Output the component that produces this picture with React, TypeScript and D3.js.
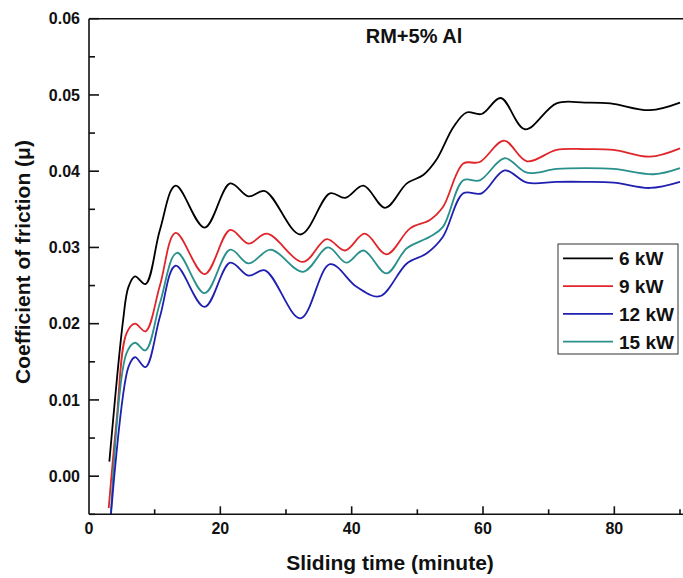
import React, { useEffect, useRef } from 'react';
import * as d3 from 'd3';

const t6 = [3.1, 5.2, 6.0, 7.0, 8.6, 10.8, 13.2, 17.6, 21.5, 24.3, 26.8, 32.2, 36.7, 39.0, 41.8, 45.1, 48.4, 50.9, 52.9, 55.5, 57.5, 59.8, 62.7, 66.4, 71.2, 75.5, 79.4, 85.4, 90];
const v6 = [0.0019, 0.0205, 0.0248, 0.0262, 0.0252, 0.0323, 0.0381, 0.0326, 0.0384, 0.0367, 0.0374, 0.0317, 0.0371, 0.0365, 0.0381, 0.0352, 0.0384, 0.0395, 0.0415, 0.0458, 0.0477, 0.0475, 0.0496, 0.0455, 0.0489, 0.049, 0.0489, 0.048, 0.049];

const t9 = [3.0, 4.2, 5.7, 7.0, 8.6, 10.8, 13.2, 17.6, 21.5, 24.3, 27.1, 32.6, 36.2, 39.0, 42.0, 45.3, 48.9, 51.9, 53.9, 57.0, 59.5, 63.2, 66.7, 71.2, 75.5, 79.9, 85.4, 90];
const v9 = [-0.0042, 0.0073, 0.0187, 0.02, 0.019, 0.025, 0.0319, 0.0265, 0.0323, 0.0305, 0.0318, 0.0281, 0.0311, 0.0296, 0.0318, 0.0291, 0.0325, 0.0336, 0.0353, 0.041, 0.0412, 0.044, 0.0413, 0.0428, 0.0429, 0.0428, 0.0419, 0.043];

const t12 = [3.3, 6.0, 7.0, 8.6, 10.8, 13.2, 17.6, 21.5, 24.3, 26.8, 32.2, 36.7, 40.8, 44.3, 48.4, 51.4, 53.9, 57.0, 59.8, 63.3, 66.7, 71.2, 75.5, 79.9, 85.4, 90];
const v12 = [-0.0055, 0.0143, 0.0156, 0.0143, 0.0209, 0.0276, 0.0222, 0.028, 0.0263, 0.027, 0.0207, 0.0278, 0.0248, 0.0236, 0.0279, 0.0292, 0.0314, 0.0371, 0.0371, 0.0401, 0.0385, 0.0386, 0.0386, 0.0385, 0.0378, 0.0386];

const t15 = [3.3, 5.7, 7.0, 8.6, 10.8, 13.4, 17.6, 21.5, 24.3, 27.7, 32.6, 36.4, 39.2, 41.8, 45.3, 48.4, 51.9, 53.9, 57.0, 59.5, 63.3, 66.7, 71.2, 75.5, 79.9, 86.0, 90];
const v15 = [-0.0055, 0.0161, 0.0175, 0.0165, 0.0227, 0.0293, 0.024, 0.0297, 0.0279, 0.0297, 0.0268, 0.03, 0.028, 0.0296, 0.0266, 0.0299, 0.0314, 0.0327, 0.0388, 0.0388, 0.0417, 0.0398, 0.0403, 0.0404, 0.0403, 0.0396, 0.0404];

const seriesNames = ['6 kW', '9 kW', '12 kW', '15 kW'];
const seriesColors = ['#000000', '#e0262a', '#1f1fb0', '#2a908c'];
const seriesT = [t6, t9, t12, t15];
const seriesV = [v6, v9, v12, v15];
const drawOrder = [0, 1, 3, 2];

const xTicks = [0, 20, 40, 60, 80];
const yTicks = [0, 0.01, 0.02, 0.03, 0.04, 0.05, 0.06];

const font = 'Arial, "Liberation Sans", sans-serif';

const App = () => {
    const ref = useRef<SVGSVGElement>(null);

    useEffect(() => {
        if (!ref.current) return;
        const svg = d3.select(ref.current);
        svg.selectAll('*').remove();

        const x = d3.scaleLinear().domain([0, 90]).range([89, 680]);
        const y = d3.scaleLinear().domain([-0.005, 0.06]).range([514.3, 18.7]);
        const left = x(0), right = x(92), top = y(0.06), bottom = y(-0.005);

        svg.append('defs').append('clipPath').attr('id', 'plotclip')
            .append('rect').attr('x', left).attr('y', top).attr('width', right - left).attr('height', bottom - top);

        // curves
        const line = d3.line<[number, number]>()
            .x(d => x(d[0])).y(d => y(d[1]))
            .curve(d3.curveCatmullRom.alpha(0.5));
        const curves = svg.append('g').attr('clip-path', 'url(#plotclip)');
        drawOrder.forEach(i => {
            const pts = seriesT[i].map((t, k) => [t, seriesV[i][k]] as [number, number]);
            curves.append('path')
                .attr('d', line(pts))
                .attr('fill', 'none')
                .attr('stroke', seriesColors[i])
                .attr('stroke-width', 1.8);
        });

        // frame
        const frame = svg.append('g').attr('stroke', '#111').attr('stroke-width', 1.6).attr('fill', 'none');
        frame.append('line').attr('x1', left).attr('x2', left).attr('y1', top).attr('y2', bottom);
        frame.append('line').attr('x1', left).attr('x2', right).attr('y1', top).attr('y2', top);
        frame.append('line').attr('x1', left).attr('x2', right).attr('y1', bottom).attr('y2', bottom);

        // x axis (ticks inside)
        d3.range(10, 91, 10).forEach(v => {
            const major = v % 20 === 0;
            frame.append('line').attr('x1', x(v)).attr('x2', x(v))
                .attr('y1', bottom).attr('y2', bottom - (major ? 8 : 5));
        });
        svg.append('g').selectAll('text').data(xTicks).join('text')
            .attr('x', d => x(d)).attr('y', bottom + 20)
            .attr('text-anchor', 'middle')
            .attr('font-family', font).attr('font-weight', 'bold').attr('font-size', 16)
            .attr('fill', '#111')
            .text(d => String(d));

        // y axis (ticks inside)
        d3.range(-0.005, 0.0601, 0.005).forEach(v => {
            const major = Math.abs(Math.round(v * 1000) % 10) === 0;
            frame.append('line').attr('x1', left).attr('x2', left + (major ? 10 : 6))
                .attr('y1', y(v)).attr('y2', y(v));
        });
        svg.append('g').selectAll('text').data(yTicks).join('text')
            .attr('x', 80).attr('y', d => y(d)).attr('dy', '0.36em')
            .attr('text-anchor', 'end')
            .attr('font-family', font).attr('font-weight', 'bold').attr('font-size', 16)
            .attr('fill', '#111')
            .text(d => d3.format('.2f')(d));

        // axis titles
        svg.append('text')
            .attr('x', 390).attr('y', 570)
            .attr('text-anchor', 'middle')
            .attr('font-family', font).attr('font-weight', 'bold').attr('font-size', 21)
            .attr('fill', '#111')
            .text('Sliding time (minute)');
        svg.append('text')
            .attr('transform', 'translate(30,262) rotate(-90)')
            .attr('text-anchor', 'middle')
            .attr('font-family', font).attr('font-weight', 'bold').attr('font-size', 21)
            .attr('fill', '#111')
            .text('Coefficient of friction (\u03bc)');

        svg.append('text')
            .attr('x', 414).attr('y', 43)
            .attr('text-anchor', 'middle')
            .attr('font-family', font).attr('font-weight', 'bold').attr('font-size', 20)
            .attr('fill', '#111')
            .text('RM+5% Al');

        // legend
        const lg = svg.append('g');
        lg.append('rect').attr('x', 558).attr('y', 244).attr('width', 120).attr('height', 110)
            .attr('fill', 'white').attr('stroke', '#333').attr('stroke-width', 1);
        seriesNames.forEach((name, i) => {
            const ly = 258.3 + i * 27.8;
            lg.append('line').attr('x1', 563).attr('x2', 613).attr('y1', ly).attr('y2', ly)
                .attr('stroke', seriesColors[i]).attr('stroke-width', 1.8);
            lg.append('text').attr('x', 619).attr('y', ly).attr('dy', '0.36em')
                .attr('font-family', font).attr('font-weight', 'bold').attr('font-size', 19)
                .attr('fill', '#111')
                .text(name);
        });
    }, []);

    return (
        <svg ref={ref} width={683} height={578}
            style={{ position: 'absolute', left: 0, top: 0, background: 'white' }} />
    );
};

export default App;
